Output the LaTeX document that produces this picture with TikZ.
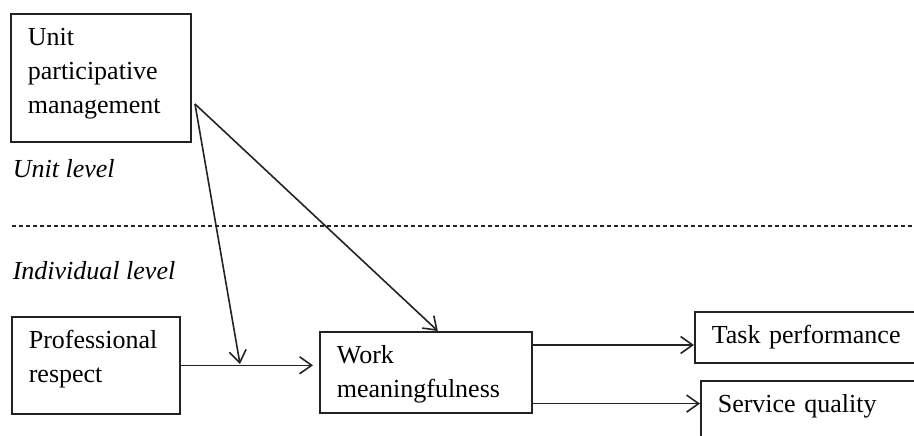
\documentclass[tikz,border=0pt]{standalone}
\usepackage{fontspec}
\setmainfont{Liberation Serif}
\usetikzlibrary{arrows.meta}
\definecolor{lineclr}{RGB}{35,35,35}
\begin{document}
\begin{tikzpicture}[x=1pt,y=-1pt,
    line width=1.6pt, draw=lineclr,
    >={Straight Barb[length=12pt,width=17pt]},
    box/.style={draw=lineclr, anchor=north west, align=left, inner xsep=17pt,
      inner ysep=0pt, text height=32pt, font=\fontsize{26}{34}\selectfont},
    level/.style={anchor=base west, inner sep=0pt,
      font=\fontsize{26}{34}\selectfont\itshape}]
  \useasboundingbox (0,0) rectangle (914,436);
  \clip (0,0) rectangle (914,436);
  % boxes
  \node[box, text width=146pt, text depth=96pt] (upm) at (10,13)
    {Unit\\participative\\management};
  \node[box, text width=134pt, text depth=65pt] (pr) at (11,316)
    {Professional\\respect};
  \node[box, text width=178pt, text depth=49pt] (wm) at (319,331)
    {Work\\meaningfulness};
  \node[box, text width=260pt, text depth=19pt] (tp) at (694,311)
    {Task performance};
  \node[box, text width=260pt, text depth=40pt] (sq) at (700,380)
    {Service quality};
  % levels
  \node[level] (unitlvl) at (12,177) {Unit level};
  \node[level] (indlvl) at (12,279) {Individual level};
  \draw[line width=1.1pt, dash pattern=on 4pt off 3pt] (12,226) -- (914,226);
  % paths
  \coordinate (src) at (195,104);
  \coordinate (mod) at (240,364);
  \draw[->] (src) -- ([xshift=12pt]wm.north);
  \draw[->] (src) -- (mod);
  \draw[->, shorten >=6pt] (pr.east) -- (pr.east -| wm.west);
  \draw[->] ([yshift=-14pt]wm.north east) -- ([yshift=-14pt]wm.north east -| tp.west);
  \draw[->] ([yshift=10pt]wm.south east) -- ([yshift=10pt]wm.south east -| sq.west);
\end{tikzpicture}
\end{document}
